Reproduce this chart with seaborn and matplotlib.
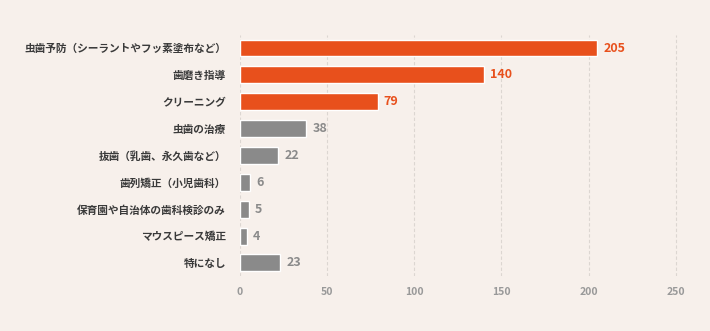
import matplotlib
matplotlib.use("Agg")
import matplotlib.pyplot as plt
import seaborn as sns
import pandas as pd

categories = ["虫歯予防（シーラントやフッ素塗布など）", "歯磨き指導", "クリーニング", "虫歯の治療",
              "抜歯（乳歯、永久歯など）", "歯列矯正（小児歯科）", "保育園や自治体の歯科検診のみ",
              "マウスピース矯正", "特になし"]
values = [205, 140, 79, 38, 22, 6, 5, 4, 23]
highlight = [True, True, True, False, False, False, False, False, False]
xticks = [0, 50, 100, 150, 200, 250]

ORANGE = "#e8501c"
GREY = "#8a8a8a"
BG = "#f7f0eb"

sns.set_theme(style="white")
plt.rcParams['font.family'] = ['Noto Sans CJK JP', 'DejaVu Sans']

df = pd.DataFrame({"cat": categories, "val": values,
                   "grp": ["hi" if h else "lo" for h in highlight]})

fig = plt.figure(figsize=(7.1, 3.31), dpi=100, facecolor=BG)
ax = fig.add_axes([0.338, 0.165, 0.626, 0.7305])
ax.set_facecolor(BG)

sns.barplot(data=df, y="cat", x="val", hue="grp", palette={"hi": ORANGE, "lo": GREY},
            dodge=False, legend=False, width=0.63, ax=ax, saturation=1)

ax.set_xlim(0, 255)
ax.set_xticks(xticks)
ax.set_xticklabels([str(t) for t in xticks], color="#999999", fontsize=7.5, fontweight="bold")
ax.tick_params(axis="x", length=0, pad=8)
ax.tick_params(axis="y", length=0, pad=10)
for lbl in ax.get_yticklabels():
    lbl.set_fontsize(7.7)
    lbl.set_color("#3a3a3a")
    lbl.set_fontweight("bold")
ax.set_xlabel("")
ax.set_ylabel("")
for t in xticks:
    ax.axvline(t, color="#dcd6d1", lw=0.8, ls=(0, (3, 2)), zorder=0)
for s in ax.spines.values():
    s.set_visible(False)

for i, (v, h) in enumerate(zip(values, highlight)):
    ax.text(v + 3.5, i, str(v), va="center", ha="left", fontsize=9, fontweight="bold",
            color=ORANGE if h else GREY)

fig.savefig("out.png", dpi=100, facecolor=BG)
